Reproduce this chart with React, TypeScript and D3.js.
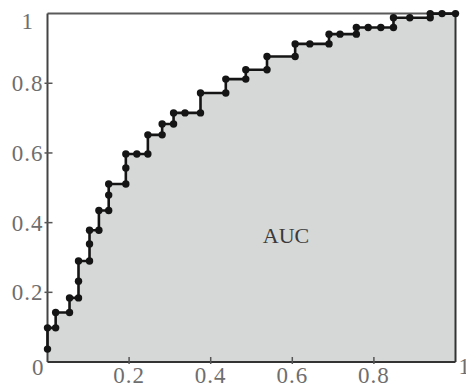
import React from 'react';
import * as d3 from 'd3';

const fpr = [0, 0, 0.02, 0.02, 0.054, 0.054, 0.076, 0.076, 0.076, 0.103, 0.103, 0.103, 0.126, 0.126, 0.15, 0.15, 0.15, 0.192, 0.192, 0.192, 0.219, 0.246, 0.246, 0.281, 0.281, 0.309, 0.309, 0.337, 0.375, 0.375, 0.437, 0.437, 0.486, 0.486, 0.538, 0.538, 0.607, 0.607, 0.643, 0.69, 0.69, 0.717, 0.757, 0.757, 0.786, 0.817, 0.848, 0.848, 0.888, 0.938, 0.938, 0.967, 1.0];
const tpr = [0.037, 0.098, 0.098, 0.142, 0.142, 0.184, 0.184, 0.232, 0.29, 0.29, 0.339, 0.378, 0.378, 0.435, 0.435, 0.479, 0.511, 0.511, 0.557, 0.597, 0.597, 0.597, 0.652, 0.652, 0.683, 0.683, 0.715, 0.715, 0.715, 0.772, 0.772, 0.812, 0.812, 0.839, 0.839, 0.877, 0.877, 0.913, 0.913, 0.913, 0.941, 0.941, 0.941, 0.96, 0.96, 0.96, 0.96, 0.988, 0.988, 0.988, 1.0, 1.0, 1.0];
const xTicks = [0.2, 0.4, 0.6, 0.8];
const yTicks = [0.2, 0.4, 0.6, 0.8];
const xTickLabels = ['0.2', '0.4', '0.6', '0.8'];
const yTickLabels = ['0.2', '0.4', '0.6', '0.8'];
const areaLabel = 'AUC';

export default function App() {
  const W = 466, H = 387;
  const L = 47.5, R = 455.5, T = 13.6, B = 362;
  const x = d3.scaleLinear().domain([0, 1]).range([L, R]);
  const y = d3.scaleLinear().domain([0, 1]).range([B, T]);
  const pts: [number, number][] = fpr.map((f, i) => [f, tpr[i]]);
  const line = d3.line<[number, number]>().x(d => x(d[0])).y(d => y(d[1]));
  const area = d3.area<[number, number]>().x(d => x(d[0])).y0(y(0)).y1(d => y(d[1]));
  const font = '"Liberation Serif", "Times New Roman", serif';
  const labelColor = '#6e6e6e';
  return (
    <svg width={W} height={H} style={{ position: 'absolute', left: 0, top: 0, background: '#fff' }}>
      <path d={area(pts) || ''} fill="#d6d8d8" />
      <line x1={L} x2={R} y1={T} y2={T} stroke="#5a5a5a" strokeWidth={2} />
      <line x1={R} x2={R} y1={T} y2={B} stroke="#333" strokeWidth={2} />
      <line x1={L} x2={L} y1={T} y2={B} stroke="#444" strokeWidth={2} />
      <line x1={L} x2={R} y1={B} y2={B} stroke="#333" strokeWidth={2} />
      {yTicks.map((t, i) => (
        <g key={'y' + i}>
          <line x1={L - 3} x2={L + 5} y1={y(t)} y2={y(t)} stroke="#555" strokeWidth={1.5} />
          <text x={L - 4} y={y(t) + 8} textAnchor="end" fontFamily={font} fontSize={23} fill={labelColor} letterSpacing={1}>{yTickLabels[i]}</text>
        </g>
      ))}
      {xTicks.map((t, i) => (
        <g key={'x' + i}>
          <line x1={x(t)} x2={x(t)} y1={B - 5} y2={B + 2} stroke="#555" strokeWidth={1.5} />
          <text x={x(t)} y={B + 21} textAnchor="middle" fontFamily={font} fontSize={23} fill={labelColor} letterSpacing={1}>{xTickLabels[i]}</text>
        </g>
      ))}
      <text x={L - 4} y={B + 13} textAnchor="end" fontFamily={font} fontSize={23} fill={labelColor}>0</text>
      <text x={33} y={T + 15} textAnchor="end" fontFamily={font} fontSize={23} fill={labelColor}>1</text>
      <text x={R + 3} y={B + 12} textAnchor="start" fontFamily={font} fontSize={23} fill={labelColor}>1</text>
      <path d={line(pts) || ''} fill="none" stroke="#151515" strokeWidth={2.6} />
      {pts.map((p, i) => (
        <circle key={i} cx={x(p[0])} cy={y(p[1])} r={3.7} fill="#151515" />
      ))}
      <text x={286} y={243} textAnchor="middle" fontFamily={font} fontSize={22} fill="#3a3a3a">{areaLabel}</text>
    </svg>
  );
}
